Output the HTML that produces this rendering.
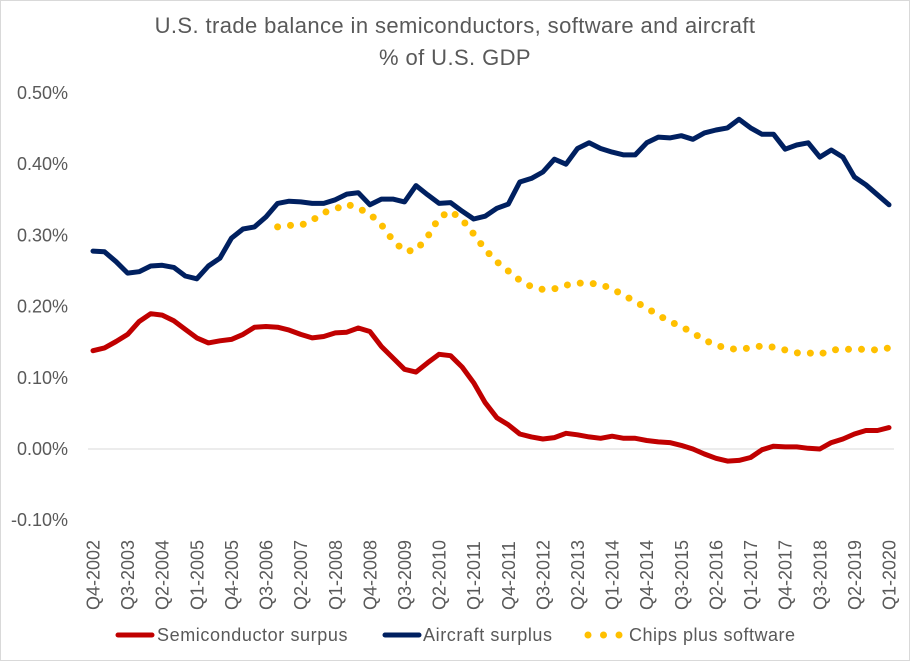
<!DOCTYPE html>
<html><head><meta charset="utf-8"><style>
html,body{margin:0;padding:0;background:#fff;}
svg{display:block;font-family:"Liberation Sans",sans-serif;}
</style></head><body>
<svg id="chart" width="910" height="661" viewBox="0 0 910 661">
<rect x="0.5" y="0.5" width="909" height="660" fill="#fff" stroke="#d9d9d9"/>
<text x="455" y="33" text-anchor="middle" font-size="22" letter-spacing="0.4" fill="#595959">U.S. trade balance in semiconductors, software and aircraft</text>
<text x="455" y="65" text-anchor="middle" font-size="22" letter-spacing="0.4" fill="#595959">% of U.S. GDP</text>
<g id="yaxis"></g>
<g id="xaxis"></g>
<g id="series"></g>
<g>
<g>
<line x1="118" y1="635" x2="152" y2="635" stroke="#c00000" stroke-width="5" stroke-linecap="round"/>
<text x="157" y="641" font-size="18" letter-spacing="0.6" fill="#595959">Semiconductor surpus</text></g>
<g>
<line x1="385" y1="635" x2="419" y2="635" stroke="#002060" stroke-width="5" stroke-linecap="round"/>
<text x="423" y="641" font-size="18" letter-spacing="0.6" fill="#595959">Aircraft surplus</text></g>
<g>
<line x1="588" y1="635" x2="620" y2="635" stroke="#ffc000" stroke-width="7" stroke-linecap="round" stroke-dasharray="0 15.5"/>
<text x="629" y="641" font-size="18" textLength="166" lengthAdjust="spacing" fill="#595959">Chips plus software</text></g>
</g>
</svg>
<script>
const yTicks = [-0.10, 0, 0.10, 0.20, 0.30, 0.40, 0.50];
const xTickLabels = ["Q4-2002","Q3-2003","Q2-2004","Q1-2005","Q4-2005","Q3-2006","Q2-2007","Q1-2008","Q4-2008","Q3-2009","Q2-2010","Q1-2011","Q4-2011","Q3-2012","Q2-2013","Q1-2014","Q4-2014","Q3-2015","Q2-2016","Q1-2017","Q4-2017","Q3-2018","Q2-2019","Q1-2020"];
const semiconductor = [0.138,0.142,0.151,0.161,0.179,0.190,0.188,0.180,0.168,0.156,0.149,0.152,0.154,0.161,0.171,0.172,0.171,0.167,0.161,0.156,0.158,0.163,0.164,0.170,0.165,0.144,0.128,0.112,0.108,0.121,0.133,0.131,0.115,0.093,0.065,0.044,0.034,0.021,0.017,0.014,0.016,0.022,0.020,0.017,0.015,0.018,0.015,0.015,0.012,0.010,0.009,0.005,0.000,-0.007,-0.013,-0.017,-0.016,-0.012,-0.001,0.004,0.003,0.003,0.001,0.000,0.009,0.014,0.021,0.026,0.026,0.030];
const aircraft = [0.278,0.277,0.263,0.247,0.249,0.257,0.258,0.255,0.243,0.239,0.257,0.268,0.296,0.309,0.312,0.326,0.345,0.348,0.347,0.345,0.345,0.350,0.358,0.360,0.343,0.351,0.351,0.347,0.370,0.357,0.345,0.346,0.334,0.323,0.327,0.338,0.344,0.375,0.380,0.389,0.407,0.400,0.422,0.430,0.422,0.417,0.413,0.413,0.430,0.438,0.437,0.440,0.435,0.444,0.448,0.451,0.463,0.451,0.442,0.442,0.421,0.427,0.430,0.410,0.420,0.410,0.382,0.371,0.357,0.343];
const chips = [null,null,null,null,null,null,null,null,null,null,null,null,null,null,null,null,0.312,0.314,0.314,0.321,0.332,0.337,0.344,0.338,0.330,0.315,0.293,0.278,0.279,0.298,0.325,0.334,0.322,0.302,0.280,0.263,0.250,0.237,0.228,0.224,0.225,0.230,0.233,0.233,0.231,0.225,0.216,0.207,0.198,0.188,0.179,0.172,0.163,0.153,0.146,0.141,0.140,0.142,0.145,0.143,0.139,0.135,0.135,0.133,0.139,0.140,0.140,0.140,0.139,0.142];

const NS = "http://www.w3.org/2000/svg";
const x0 = 93, x1 = 889, yZero = 449, yPerUnit = 712;
const n = aircraft.length;
function xScale(i){ return x0 + (x1 - x0) * i / (n - 1); }
function yScale(v){ return yZero - v * yPerUnit; }

const yaxis = document.getElementById('yaxis');
yTicks.forEach(t => {
  const tx = document.createElementNS(NS, 'text');
  tx.setAttribute('x', 68); tx.setAttribute('y', yScale(t) + 6);
  tx.setAttribute('text-anchor', 'end'); tx.setAttribute('font-size', '18'); tx.setAttribute('fill', '#595959');
  tx.textContent = t.toFixed(2) + '%';
  
  
  yaxis.appendChild(tx);
});
const zl = document.createElementNS(NS, 'line');
zl.setAttribute('x1', 88); zl.setAttribute('x2', 894);
zl.setAttribute('y1', yScale(0)); zl.setAttribute('y2', yScale(0));
zl.setAttribute('stroke', '#d9d9d9'); zl.setAttribute('stroke-width', '1');


yaxis.appendChild(zl);

const xaxis = document.getElementById('xaxis');
xTickLabels.forEach((lab, k) => {
  const x = xScale(k * 3);
  const tx = document.createElementNS(NS, 'text');
  tx.setAttribute('transform', 'translate(' + (x + 6.5) + ',610) rotate(-90)');
  tx.setAttribute('font-size', '18'); tx.setAttribute('fill', '#595959');
  tx.textContent = lab;
  
  
  xaxis.appendChild(tx);
});

const series = document.getElementById('series');
function addLine(vals, color, width, dash, name){
  let d = '';
  vals.forEach((v, i) => {
    if (v === null) return;
    d += (d ? 'L' : 'M') + xScale(i).toFixed(1) + ',' + yScale(v).toFixed(1);
  });
  const p = document.createElementNS(NS, 'path');
  p.setAttribute('d', d); p.setAttribute('fill', 'none');
  p.setAttribute('stroke', color); p.setAttribute('stroke-width', width);
  p.setAttribute('stroke-linecap', 'round'); p.setAttribute('stroke-linejoin', 'round');
  if (dash) p.setAttribute('stroke-dasharray', dash);
  
  
  series.appendChild(p);
}
addLine(semiconductor, '#c00000', 5, null, 'semiconductor-line');
addLine(aircraft, '#002060', 5, null, 'aircraft-line');
addLine(chips, '#ffc000', 7, '0 13', 'chips-software-line');
</script>
</body></html>
